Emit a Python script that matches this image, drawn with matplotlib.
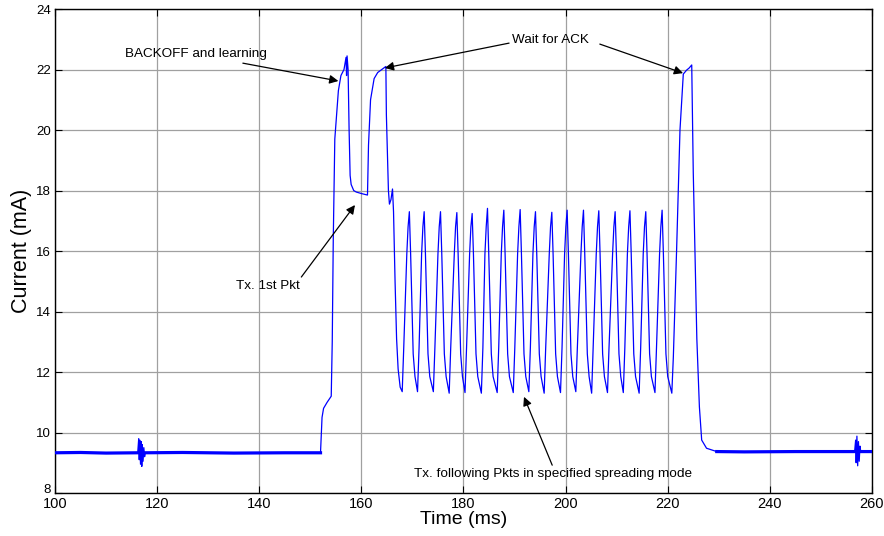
import matplotlib.pyplot as plt
import matplotlib.transforms as mtransforms
import numpy as np

plt.rcParams['font.family'] = ['Liberation Sans', 'DejaVu Sans']

# supply current trace, vertices as (time ms, current mA)
# idle baseline with a short glitch near 117 ms
idle_start = [
    (100.0, 9.33), (105.0, 9.34), (110.0, 9.32), (116.2, 9.33),
    (116.4, 9.80), (116.5, 9.10), (116.6, 9.75), (116.75, 8.95),
    (116.9, 9.70), (117.0, 8.88), (117.1, 9.60), (117.25, 9.05),
    (117.4, 9.50), (117.55, 9.20), (117.7, 9.33), (125.0, 9.34),
    (135.0, 9.32), (145.0, 9.33), (152.0, 9.33),
]

# backoff / first packet / wait for ACK
first_burst = [
    (152.3, 10.5), (152.6, 10.8), (153.3, 11.0), (154.1, 11.2),
    (154.3, 13.0), (154.5, 16.4), (154.8, 19.7), (155.5, 21.3),
    (156.0, 21.8), (156.6, 22.0), (157.0, 22.4), (157.1, 21.8),
    (157.2, 22.45), (157.4, 22.0), (157.6, 20.0), (157.8, 18.5),
    (158.0, 18.2), (158.5, 18.0), (159.0, 17.95), (160.0, 17.9),
    (161.2, 17.85), (161.4, 19.5), (161.8, 21.0), (162.5, 21.7),
    (163.2, 21.9), (164.0, 22.0), (164.8, 22.1), (164.9, 20.5),
    (165.3, 18.0), (165.5, 17.55), (165.8, 17.7), (166.1, 18.05),
    (166.3, 17.3), (166.6, 15.0), (166.9, 13.1), (167.2, 12.1),
    (167.6, 11.5),
]

# following packets (17 pulses)
pulse_train = [
    (168.0, 11.35), (168.3, 12.8), (168.9, 15.9), (169.15, 16.8), (169.4, 17.30), (169.65, 15.9), (170.15, 12.6), (170.5, 11.85),
    (171.0, 11.35), (171.3, 12.8), (171.8, 15.9), (172.05, 16.8), (172.3, 17.30), (172.55, 15.9), (173.05, 12.6), (173.4, 11.85),
    (174.1, 11.35), (174.4, 12.8), (175.0, 15.9), (175.25, 16.8), (175.5, 17.30), (175.75, 15.9), (176.25, 12.6), (176.6, 11.85),
    (177.2, 11.30), (177.5, 12.8), (178.2, 15.9), (178.45, 16.8), (178.7, 17.27), (178.95, 15.9), (179.45, 12.6), (179.8, 11.85),
    (180.3, 11.32), (180.6, 12.8), (181.2, 15.9), (181.45, 16.8), (181.7, 17.24), (181.95, 15.9), (182.45, 12.6), (182.8, 11.85),
    (183.5, 11.30), (183.8, 12.8), (184.2, 15.9), (184.45, 16.8), (184.7, 17.41), (184.95, 15.9), (185.45, 12.6), (185.8, 11.85),
    (186.6, 11.32), (186.9, 12.8), (187.4, 15.9), (187.65, 16.8), (187.9, 17.35), (188.15, 15.9), (188.65, 12.6), (189.0, 11.85),
    (189.75, 11.32), (190.05, 12.8), (190.6, 15.9), (190.85, 16.8), (191.1, 17.37), (191.35, 15.9), (191.85, 12.6), (192.2, 11.85),
    (192.8, 11.35), (193.1, 12.8), (193.6, 15.9), (193.85, 16.8), (194.1, 17.30), (194.35, 15.9), (194.85, 12.6), (195.2, 11.85),
    (195.8, 11.30), (196.1, 12.8), (196.8, 15.9), (197.05, 16.8), (197.3, 17.28), (197.55, 15.9), (198.05, 12.6), (198.4, 11.85),
    (199.0, 11.32), (199.3, 12.8), (199.8, 15.9), (200.05, 16.8), (200.3, 17.35), (200.55, 15.9), (201.05, 12.6), (201.4, 11.85),
    (202.0, 11.35), (202.3, 12.8), (203.0, 15.9), (203.25, 16.8), (203.5, 17.35), (203.75, 15.9), (204.25, 12.6), (204.6, 11.85),
    (205.1, 11.30), (205.4, 12.8), (206.0, 15.9), (206.25, 16.8), (206.5, 17.33), (206.75, 15.9), (207.25, 12.6), (207.6, 11.85),
    (208.2, 11.32), (208.5, 12.8), (209.2, 15.9), (209.45, 16.8), (209.7, 17.30), (209.95, 15.9), (210.45, 12.6), (210.8, 11.85),
    (211.3, 11.32), (211.6, 12.8), (212.1, 15.9), (212.35, 16.8), (212.6, 17.33), (212.85, 15.9), (213.35, 12.6), (213.7, 11.85),
    (214.4, 11.30), (214.7, 12.8), (215.2, 15.9), (215.45, 16.8), (215.7, 17.30), (215.95, 15.9), (216.45, 12.6), (216.8, 11.85),
    (217.5, 11.32), (217.8, 12.8), (218.4, 15.9), (218.65, 16.8), (218.9, 17.35), (219.15, 15.9), (219.65, 12.6), (220.0, 11.85),
    (220.8, 11.30),
]

# final wait for ACK, then back to idle
last_burst = [
    (221.1, 12.5), (221.75, 16.1), (222.4, 20.0), (223.05, 21.85),
    (223.7, 21.98), (224.2, 22.05), (224.7, 22.15), (225.0, 18.6),
    (225.7, 13.1), (226.2, 10.85), (226.65, 9.75), (227.6, 9.48),
]

idle_end = [
    (229.6, 9.37), (235.0, 9.36), (245.0, 9.37), (256.6, 9.37),
    (256.8, 9.75), (256.9, 9.00), (257.05, 9.88), (257.2, 8.90),
    (257.35, 9.70), (257.5, 9.05), (257.65, 9.55), (257.8, 9.37),
    (260.0, 9.37),
]

trace = np.array(idle_start + first_burst + pulse_train + last_burst + idle_end)
t, i_ma = trace[:, 0], trace[:, 1]

fig = plt.figure(figsize=(8.84, 5.36), dpi=100)
ax = fig.add_axes([0.0622, 0.0802, 0.9242, 0.903])

ax.plot(t, i_ma, color='#0000ff', lw=0.9, zorder=3)
# noisy idle floor draws as a thicker band (glitches stay thin)
for seg in (idle_start, idle_end):
    s = np.array(seg)
    flat = np.abs(s[:, 1] - np.median(s[:, 1])) < 0.05
    ax.plot(s[flat, 0], s[flat, 1], color='#0000ff', lw=2.3, zorder=3)

ax.set_xlim(100, 260)
ax.set_ylim(8, 24)
ax.set_xticks(np.arange(100, 261, 20))
ax.set_yticks(np.arange(8, 25, 2))
ax.grid(True, color='#a0a0a0', lw=0.9, ls='-')
ax.set_axisbelow(True)
ax.tick_params(direction='in', top=True, right=True, length=5, pad=3)
ax.tick_params(axis='x', labelsize=10.5)
ax.tick_params(axis='y', labelsize=9.5)
for sp in ax.spines.values():
    sp.set_linewidth(1.0)

# lift the bottom y label clear of the first x label
lbl = ax.get_yticklabels()[0]
lbl.set_transform(lbl.get_transform() +
                  mtransforms.ScaledTranslation(0, 3 / 72, fig.dpi_scale_trans))

ax.set_xlabel('Time (ms)', fontsize=14, labelpad=0)
ax.set_ylabel('Current (mA)', fontsize=15.5, labelpad=3)

arrow = dict(arrowstyle='-|>', color='black', lw=0.9,
             mutation_scale=13, shrinkA=0, shrinkB=0)
note = dict(fontsize=9.7, color='black')

ax.annotate('BACKOFF and learning', xy=(155.5, 21.62), xytext=(113.7, 22.5),
            ha='left', va='center', arrowprops=arrow, **note)
ax.annotate('Wait for ACK', xy=(164.6, 22.05), xytext=(197.0, 22.97),
            ha='center', va='center',
            arrowprops=dict(arrow, relpos=(0.0, 0.3)), **note)
ax.annotate('', xy=(223.0, 21.88), xytext=(206.7, 22.84), arrowprops=arrow)
ax.annotate('Tx. 1st Pkt', xy=(158.75, 17.52), xytext=(141.6, 14.85),
            ha='center', va='center',
            arrowprops=dict(arrow, relpos=(1.0, 1.0)), **note)
ax.annotate('Tx. following Pkts in specified spreading mode',
            xy=(191.85, 11.18), xytext=(197.6, 8.63),
            ha='center', va='center',
            arrowprops=dict(arrow, relpos=(0.5, 1.0)), **note)

fig.savefig('out.png', dpi=100)
